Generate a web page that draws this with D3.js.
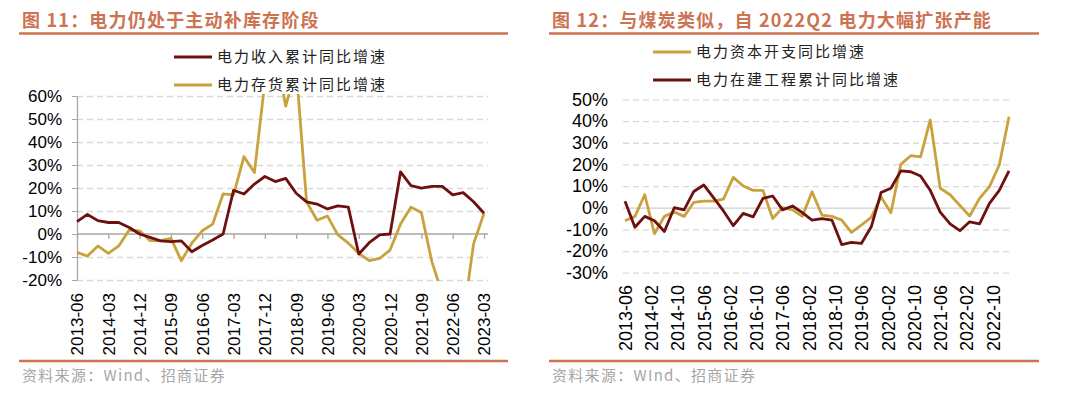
<!DOCTYPE html>
<html lang="zh">
<head>
<meta charset="UTF-8">
<title>电力收入、存货与资本开支</title>
<script src="https://d3js.org/d3.v7.min.js"></script>
<style>
  body { margin: 0; background: #fff; }
  svg text { font-family: "Liberation Sans", Arial, sans-serif; fill: #000; }
  svg text.cjk { font-family: "Noto Sans CJK SC", sans-serif; }
</style>
</head>
<body>
<svg id="chart" width="1080" height="394"></svg>
<script>
// quarterly points, both panels
const quarters = [
  "2013-06","2013-09","2013-12","2014-03","2014-06","2014-09","2014-12","2015-03",
  "2015-06","2015-09","2015-12","2016-03","2016-06","2016-09","2016-12","2017-03",
  "2017-06","2017-09","2017-12","2018-03","2018-06","2018-09","2018-12","2019-03",
  "2019-06","2019-09","2019-12","2020-03","2020-06","2020-09","2020-12","2021-03",
  "2021-06","2021-09","2021-12","2022-03","2022-06","2022-09","2022-12","2023-03"
];

// 图11
const incomeGrowth = [
  5.4, 8.5, 5.8, 5.0, 5.0, 2.8, 0.0, -1.5, -3.0, -3.3, -3.0, -7.7, -5.0, -2.6, 0.0, 19.0,
  17.4, 21.7, 25.0, 22.8, 24.2, 17.7, 14.0, 13.0, 10.9, 12.2, 11.7, -8.7, -3.8, -0.4, 0.0, 27.0,
  21.0, 19.9, 20.7, 20.7, 17.0, 18.0, 14.0, 9.0
];
const inventoryGrowth = [
  -8.0, -9.6, -5.2, -8.4, -5.2, 1.7, 1.4, -2.9, -2.9, -1.9, -11.6, -4.0, 1.4, 4.3, 17.4, 17.0,
  33.6, 26.7, 66.0, 80.0, 55.6, 72.0, 14.0, 6.0, 7.8, -0.4, -4.0, -8.4, -11.6, -10.6, -7.0, 4.3,
  11.6, 9.3, -12.0, -26.0, -38.0, -37.0, -4.3, 9.0
];
const leftTickLabels = ["2013-06","2014-03","2014-12","2015-09","2016-06","2017-03","2017-12",
  "2018-09","2019-06","2020-03","2020-12","2021-09","2022-06","2023-03"];
const leftYTicks = [-20, -10, 0, 10, 20, 30, 40, 50, 60];

// 图12
const capexGrowth = [
  -6.0, -4.0, 6.0, -12.0, -4.0, -2.0, -4.0, 2.5, 3.0, 3.0, 4.0, 14.0, 10.0, 8.0, 8.0, -5.0,
  0.0, -1.0, -4.0, 7.4, -3.4, -4.0, -5.7, -11.4, -8.0, -4.5, 5.0, -2.3, 20.0, 24.0, 23.5, 40.5,
  9.0, 6.0, 1.0, -3.8, 4.3, 9.7, 19.7, 42.0
];
const constructionGrowth = [
  3.0, -9.0, -4.0, -6.0, -11.0, 0.0, -1.0, 7.5, 10.5, 4.5, -1.5, -8.3, -2.6, -4.2, 4.3, 5.4,
  -1.0, 0.8, -2.3, -5.7, -5.0, -5.7, -17.0, -16.0, -16.5, -8.8, 7.0, 9.0, 17.0, 16.6, 14.6, 8.0,
  -2.0, -7.5, -10.6, -6.5, -7.5, 2.0, 8.0, 17.0
];
const rightTickLabels = ["2013-06","2014-02","2014-10","2015-06","2016-02","2016-10","2017-06",
  "2018-02","2018-10","2019-06","2020-02","2020-10","2021-06","2022-02","2022-10"];
const rightYTicks = [-30, -20, -10, 0, 10, 20, 30, 40, 50];

const RED = "#6f1010", GOLD = "#c9a23d", ACCENT = "#cc7352";
const svg = d3.select("#chart");

// titles, rules, sources
function frame(x0, x1, title, source) {
  svg.append("text").attr("class", "cjk")
    .attr("x", x0 + 3).attr("y", 27)
    .style("font-size", "18px").style("font-weight", "bold")
    .style("letter-spacing", "1.2px").style("fill", ACCENT)
    .text(title);
  svg.append("line").attr("x1", x0).attr("x2", x1).attr("y1", 33.5).attr("y2", 33.5)
    .attr("stroke", ACCENT).attr("stroke-width", 2.5);
  svg.append("line").attr("x1", x0).attr("x2", x1).attr("y1", 361).attr("y2", 361)
    .attr("stroke", ACCENT).attr("stroke-width", 2.5);
  svg.append("text").attr("class", "cjk")
    .attr("x", x0 + 3).attr("y", 381)
    .style("font-size", "15px").style("letter-spacing", "1.3px").style("fill", "#a6a6a6")
    .text(source);
}
frame(19, 508, "图 11：电力仍处于主动补库存阶段", "资料来源：Wind、招商证券");
frame(549, 1039, "图 12：与煤炭类似，自 2022Q2 电力大幅扩张产能", "资料来源：WInd、招商证券");

function legend(items, x, ys) {
  items.forEach((it, i) => {
    svg.append("line").attr("x1", x).attr("x2", x + 38).attr("y1", ys[i]).attr("y2", ys[i])
      .attr("stroke", it.color).attr("stroke-width", 3);
    svg.append("text").attr("class", "cjk")
      .attr("x", x + 43).attr("y", ys[i]).attr("dy", "0.35em")
      .style("font-size", "15px").style("letter-spacing", "2px").style("fill", "#222")
      .text(it.name);
  });
}

// ---- left panel ----
const xL = d3.scalePoint().domain(quarters).range([77, 484]);
const yL = d3.scaleLinear().domain([-20, 60]).range([280, 96]);
const left = svg.append("g");

left.append("g").attr("transform", "translate(77,0)")
  .call(d3.axisLeft(yL).tickValues(leftYTicks.filter(v => v !== 0)).tickSize(-411).tickFormat(""))
  .call(g => g.select(".domain").remove())
  .selectAll("line").attr("stroke", "#d9d9d9").attr("stroke-width", 1.3).attr("stroke-dasharray", "6,4");

left.append("g").attr("transform", "translate(77,0)")
  .call(d3.axisLeft(yL).tickValues(leftYTicks).tickSize(5).tickSizeOuter(0).tickPadding(10)
    .tickFormat(d => d + "%"))
  .call(g => g.select(".domain").attr("stroke", "#a6a6a6").attr("stroke-width", 1.3))
  .call(g => g.selectAll("line").attr("stroke", "#a6a6a6"))
  .selectAll("text").style("font-size", "17px").attr("fill", "#000");

left.append("line").attr("x1", 77).attr("x2", 488).attr("y1", yL(0)).attr("y2", yL(0))
  .attr("stroke", "#a6a6a6").attr("stroke-width", 1.3);
left.append("g").attr("transform", `translate(0,${yL(0)})`)
  .call(d3.axisBottom(xL).tickValues(leftTickLabels).tickSize(5).tickSizeOuter(0).tickFormat(""))
  .call(g => g.select(".domain").remove())
  .selectAll("line").attr("stroke", "#a6a6a6").attr("stroke-width", 1.3);

left.append("g").attr("transform", "translate(0,293)")
  .call(d3.axisBottom(xL).tickValues(leftTickLabels).tickSize(0))
  .call(g => g.select(".domain").remove())
  .selectAll("text")
  .attr("transform", "rotate(-90)").attr("x", 0).attr("y", 0).attr("dy", "0.35em")
  .style("text-anchor", "end").style("font-size", "17px").attr("fill", "#000");

svg.append("clipPath").attr("id", "clipL").append("rect")
  .attr("x", 70).attr("y", yL(60) - 2).attr("width", 430).attr("height", yL(-20) - yL(60) + 3);

const lineL = vals => d3.line().x((d, i) => xL(quarters[i])).y(d => yL(d))(vals);
left.append("path").attr("d", lineL(inventoryGrowth)).attr("clip-path", "url(#clipL)")
  .attr("fill", "none").attr("stroke", GOLD).attr("stroke-width", 2.8).attr("stroke-linejoin", "round");
left.append("path").attr("d", lineL(incomeGrowth)).attr("clip-path", "url(#clipL)")
  .attr("fill", "none").attr("stroke", RED).attr("stroke-width", 2.8).attr("stroke-linejoin", "round");

legend([{ name: "电力收入累计同比增速", color: RED }, { name: "电力存货累计同比增速", color: GOLD }], 174, [57, 85]);

// ---- right panel ----
const parseMonth = d3.timeParse("%Y-%m");
const xR = d3.scaleTime()
  .domain([parseMonth(quarters[0]), parseMonth(quarters[quarters.length - 1])])
  .range([625, 1009]);
const yR = d3.scaleLinear().domain([-30, 50]).range([272.7, 99.4]);
const right = svg.append("g");

right.append("g").attr("transform", "translate(623,0)")
  .call(d3.axisLeft(yR).tickValues(rightYTicks).tickSize(-387).tickFormat(""))
  .call(g => g.select(".domain").remove())
  .selectAll("line")
  .attr("stroke", d => d === 0 ? "#cfcfcf" : "#d9d9d9").attr("stroke-width", 1.3)
  .attr("stroke-dasharray", d => d === 0 ? null : "6,4");

right.append("g").attr("transform", "translate(623,0)")
  .call(d3.axisLeft(yR).tickValues(rightYTicks).tickSize(0).tickPadding(15).tickFormat(d => d + "%"))
  .call(g => g.select(".domain").remove())
  .selectAll("text").style("font-size", "18px").attr("fill", "#000");

right.append("g").attr("transform", "translate(0,285)")
  .call(d3.axisBottom(xR).tickValues(rightTickLabels.map(parseMonth)).tickSize(0)
    .tickFormat(d3.timeFormat("%Y-%m")))
  .call(g => g.select(".domain").remove())
  .selectAll("text")
  .attr("transform", "rotate(-90)").attr("x", 0).attr("y", 0).attr("dy", "0.35em")
  .style("text-anchor", "end").style("font-size", "18px").attr("fill", "#000");

const lineR = vals => d3.line().x((d, i) => xR(parseMonth(quarters[i]))).y(d => yR(d))(vals);
right.append("path").attr("d", lineR(capexGrowth))
  .attr("fill", "none").attr("stroke", GOLD).attr("stroke-width", 2.8).attr("stroke-linejoin", "round");
right.append("path").attr("d", lineR(constructionGrowth))
  .attr("fill", "none").attr("stroke", RED).attr("stroke-width", 2.8).attr("stroke-linejoin", "round");

legend([{ name: "电力资本开支同比增速", color: GOLD }, { name: "电力在建工程累计同比增速", color: RED }], 653, [52, 80]);
</script>
</body>
</html>
